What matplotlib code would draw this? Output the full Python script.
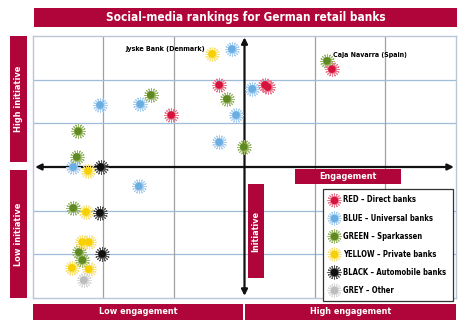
import matplotlib.pyplot as plt
from matplotlib.patches import Rectangle
from matplotlib.lines import Line2D
from matplotlib.legend_handler import HandlerTuple

plt.rcParams['font.family'] = ['DejaVu Sans']
plt.rcParams['font.stretch'] = 'condensed'

# points per group (engagement, initiative) on a 0..6 grid
red_x = [4.24, 2.64, 3.29, 3.33, 1.96]
red_y = [5.24, 4.88, 4.88, 4.83, 4.19]
blue_x = [2.82, 3.11, 1.52, 0.95, 2.88, 2.64, 0.57, 1.50]
blue_y = [5.70, 4.79, 4.44, 4.42, 4.19, 3.57, 3.00, 2.56]
green_x = [4.17, 2.75, 1.67, 0.64, 2.99, 0.62, 0.57, 0.65, 0.70]
green_y = [5.43, 4.56, 4.65, 3.82, 3.46, 3.23, 2.06, 1.05, 0.87]
yellow_x = [2.54, 0.78, 0.75, 0.70, 0.79, 0.55, 0.79]
yellow_y = [5.59, 2.91, 1.97, 1.28, 1.28, 0.69, 0.66]
black_x = [0.96, 0.95, 0.98]
black_y = [3.00, 1.95, 1.01]
grey_x = [0.72]
grey_y = [0.41]

groups = [
    ('RED \u2013 Direct banks', red_x, red_y, '#d6133d', '#e87a8f'),
    ('BLUE \u2013 Universal banks', blue_x, blue_y, '#6aaee2', '#a9cff0'),
    ('GREEN \u2013 Sparkassen', green_x, green_y, '#5f8a22', '#9bb86a'),
    ('YELLOW \u2013 Private banks', yellow_x, yellow_y, '#f7d000', '#f8e27a'),
    ('BLACK \u2013 Automobile banks', black_x, black_y, '#111111', '#555555'),
    ('GREY \u2013 Other', grey_x, grey_y, '#bdbdbd', '#d8d8d8'),
]

crimson = '#b0053a'
W, H = 467, 329

fig = plt.figure(figsize=(4.67, 3.29), dpi=100)
ax = fig.add_axes([33 / W, (H - 298) / H, 423 / W, 262 / H])
ax.set_xlim(0, 6)
ax.set_ylim(0, 6)
ax.set_xticks([])
ax.set_yticks([])
for s in ax.spines.values():
    s.set_color('#b8c6d6')
    s.set_linewidth(1.0)

for v in [1, 2, 4, 5]:
    ax.axvline(v, color='#a0a0a0', lw=0.9, zorder=1)
    ax.axhline(v, color='#9ebddb', lw=0.9, zorder=1)

# axes arrows
ax.annotate('', xy=(0.03, 3), xytext=(5.97, 3),
            arrowprops=dict(arrowstyle='<|-|>', color='#111111', lw=1.6,
                            mutation_scale=9, shrinkA=0, shrinkB=0), zorder=2)
ax.annotate('', xy=(3, 5.97), xytext=(3, 0.05),
            arrowprops=dict(arrowstyle='<|-|>', color='#111111', lw=1.6,
                            mutation_scale=9, shrinkA=0, shrinkB=0), zorder=2)

handles = []
labels = []
for name, xs, ys, col, light in groups:
    ax.scatter(xs, ys, s=100, marker=(16, 2, 0), color=light, linewidths=0.7, zorder=3)
    ax.scatter(xs, ys, s=30, marker='o', color=col, edgecolors='none', zorder=4)
    h1 = Line2D([], [], ls='none', marker=(16, 2, 0), markersize=10,
                markeredgecolor=light, markeredgewidth=0.7)
    h2 = Line2D([], [], ls='none', marker='o', markersize=5.4,
                markerfacecolor=col, markeredgecolor='none')
    handles.append((h1, h2))
    labels.append(name)

ax.text(2.44, 5.70, 'Jyske Bank (Denmark)', fontsize=5.1, fontweight='bold',
        ha='right', va='center', zorder=5)
ax.text(4.26, 5.56, 'Caja Navarra (Spain)', fontsize=5.0, fontweight='bold',
        ha='left', va='center', zorder=5)

leg = ax.legend(handles, labels, handler_map={tuple: HandlerTuple(ndivide=1)},
                loc='upper left', bbox_to_anchor=(323 / W, 1 - 189 / H),
                bbox_transform=fig.transFigure, fontsize=5.5, frameon=True,
                fancybox=False, edgecolor='#333333', framealpha=1,
                handlelength=1.3, handletextpad=0.5, labelspacing=1.18,
                borderpad=0.85, borderaxespad=0)
leg.get_frame().set_linewidth(0.9)
for t in leg.get_texts():
    t.set_fontweight('bold')
leg.set_zorder(6)

# overlay for label bars (pixel coordinates)
ov = fig.add_axes([0, 0, 1, 1])
ov.set_xlim(0, W)
ov.set_ylim(H, 0)
ov.axis('off')
ov.patch.set_alpha(0)


def bar(x0, y0, x1, y1, text, rot=0, size=6.5):
    ov.add_patch(Rectangle((x0, y0), x1 - x0, y1 - y0, color=crimson, lw=0))
    ov.text((x0 + x1) / 2, (y0 + y1) / 2, text, color='white', fontsize=size,
            fontweight='bold', ha='center', va='center', rotation=rot)


bar(34, 8, 457, 27, 'Social-media rankings for German retail banks', size=8.5)
bar(10, 36, 27, 162, 'High initiative', rot=90, size=6.6)
bar(10, 170, 27, 298, 'Low initiative', rot=90, size=6.6)
bar(33, 304, 243, 320, 'Low engagement')
bar(245, 304, 456, 320, 'High engagement')
bar(295, 169, 401, 184, 'Engagement')
bar(248, 184, 264, 278, 'Initiative', rot=90)

fig.savefig('out.png', dpi=100)
